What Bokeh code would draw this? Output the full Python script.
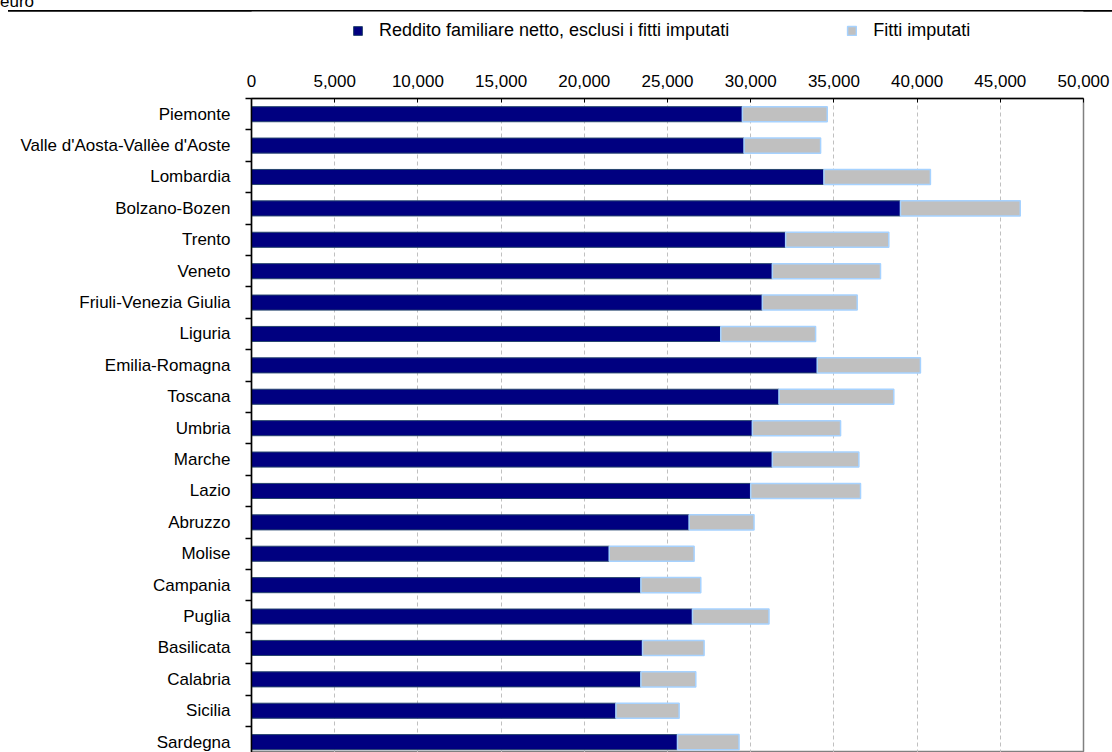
from bokeh.plotting import figure
from bokeh.models import (Range1d, FixedTicker, NumeralTickFormatter, Legend, LegendItem,
                          ColumnDataSource, Div)
from bokeh.layouts import column
from bokeh.embed import file_html
from bokeh.resources import INLINE

unit_label = "euro"
regions = ["Piemonte", "Valle d'Aosta-Vallèe d'Aoste", "Lombardia", "Bolzano-Bozen", "Trento",
           "Veneto", "Friuli-Venezia Giulia", "Liguria", "Emilia-Romagna", "Toscana", "Umbria",
           "Marche", "Lazio", "Abruzzo", "Molise", "Campania", "Puglia", "Basilicata",
           "Calabria", "Sicilia", "Sardegna"]
reddito = [29500, 29600, 34400, 39000, 32100, 31300, 30700, 28200, 34000, 31700, 30100,
           31300, 30000, 26300, 21500, 23400, 26500, 23500, 23400, 21900, 25600]
fitti = [5100, 4600, 6400, 7200, 6200, 6500, 5700, 5700, 6200, 6900, 5300,
         5200, 6600, 3900, 5100, 3600, 4600, 3700, 3300, 3800, 3700]
x_ticks = list(range(0, 50001, 5000))
series_names = ["Reddito familiare netto, esclusi i fitti imputati", "Fitti imputati"]

pos = list(range(len(regions)))
src = ColumnDataSource(dict(
    y=pos,
    r=reddito,
    tot=[a + b for a, b in zip(reddito, fitti)],
))

FONT = "Liberation Sans"
NAVY = dict(fill_color="#000080", line_color="#27456e", line_width=1)
GREY = dict(fill_color="#c0c0c0", line_color="#a6d2ff", line_width=1.5)

HEAD_H = 11
head = Div(width=1112, height=HEAD_H, styles={"margin": "0", "padding": "0", "overflow": "visible"},
           text=('<div style="position:relative;width:1104px;height:8px;margin-left:8px;'
                 'border-bottom:2px solid black;">'
                 '<span style="position:absolute;left:-8px;top:-11px;font-family:\'Liberation Sans\';'
                 'font-size:17px;line-height:17px;color:black;">' + unit_label + '</span></div>'))

# ---- legend strip ----
LEG_H = 44
lf = figure(width=1112, height=LEG_H, output_backend="svg", toolbar_location=None,
            x_range=Range1d(0, 50000), y_range=Range1d(-0.5, 20.5),
            min_border=0, min_border_left=0, min_border_right=0, min_border_top=0,
            min_border_bottom=0)
lf.axis.visible = False
lf.grid.visible = False
lf.outline_line_color = None
d1 = lf.hbar(y="y", left=0, right="r", height=0.48, source=src, visible=False, **NAVY)
d2 = lf.hbar(y="y", left="r", right="tot", height=0.48, source=src, visible=False, **GREY)
lg = Legend(items=[LegendItem(label=series_names[0], renderers=[d1]),
                   LegendItem(label=series_names[1], renderers=[d2])],
            location=(101, 14), orientation="horizontal", spacing=117,
            glyph_width=11, glyph_height=11, label_height=11, label_standoff=16,
            padding=0, margin=0, border_line_color=None, background_fill_alpha=0,
            inactive_fill_alpha=0,
            label_text_font=FONT, label_text_font_size="18px",
            label_text_baseline="middle", label_text_color="black")
lf.add_layout(lg, "center")

# ---- main chart ----
MAIN_H = 752 - HEAD_H - LEG_H
p = figure(width=1112, height=MAIN_H, output_backend="svg", toolbar_location=None,
           x_range=Range1d(0, 50000), y_range=Range1d(20.33, -0.5),
           x_axis_location="above", min_border_left=251, min_border_right=29,
           min_border_top=98 - HEAD_H - LEG_H, min_border_bottom=0)
p.outline_line_color = "#808080"
p.outline_line_width = 1.5

r1 = p.hbar(y="y", left=0, right="r", height=0.48, source=src, **NAVY)
r2 = p.hbar(y="y", left="r", right="tot", height=0.48, source=src, **GREY)

xa = p.xaxis[0]
xa.ticker = FixedTicker(ticks=x_ticks)
xa.formatter = NumeralTickFormatter(format="0,0")
xa.major_label_text_font = FONT
xa.major_label_text_font_size = "17px"
xa.major_label_text_color = "black"
xa.major_tick_in = 4
xa.major_tick_out = 0
xa.minor_tick_line_color = None
xa.minor_tick_out = 0
xa.minor_tick_in = 0
xa.major_label_standoff = 12
xa.axis_line_width = 1.5
xa.axis_line_color = "black"

ya = p.yaxis[0]
ya.ticker = FixedTicker(ticks=pos, minor_ticks=[i - 0.5 for i in range(len(regions) + 1)])
ya.major_label_overrides = {i: name for i, name in enumerate(regions)}
ya.major_tick_line_color = None
ya.major_tick_in = 0
ya.major_tick_out = 0
ya.minor_tick_line_color = "black"
ya.minor_tick_line_width = 1.5
ya.minor_tick_in = 0
ya.minor_tick_out = 6
ya.major_label_standoff = 15
ya.major_label_text_font = FONT
ya.major_label_text_font_size = "17px"
ya.major_label_text_color = "black"
ya.axis_line_width = 1.5
ya.axis_line_color = "black"

p.ygrid.grid_line_color = None
p.xgrid.ticker = FixedTicker(ticks=x_ticks)
p.xgrid.grid_line_color = "#c0c0c0"
p.xgrid.grid_line_dash = "4 3"
p.xgrid.grid_line_width = 1

open("out.html", "w").write(file_html(column(head, lf, p, spacing=0), INLINE))
